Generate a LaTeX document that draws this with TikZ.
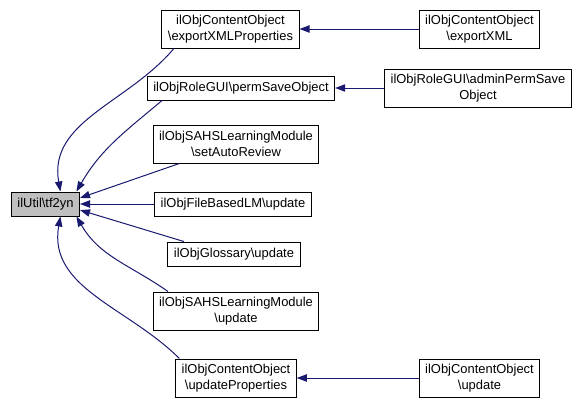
\documentclass[tikz,border=0pt]{standalone}
\usepackage{fontspec}
\setmainfont{Liberation Sans}
\usetikzlibrary{arrows.meta}
\definecolor{ee}{RGB}{25, 25, 112}
\definecolor{rr}{RGB}{191, 191, 191}

\begin{document}
\begin{tikzpicture}[x=0.75pt, y=0.75pt,
box/.style={rectangle, draw=black, line width=0.75pt, inner xsep=4.5pt, inner ysep=0pt, minimum height=18pt, align=center, font=\fontsize{9.7}{12.5}\selectfont},
tall/.style={minimum height=28.5pt},
edge/.style={line width=0.75pt, color=ee, -{Triangle[length=7.5pt, width=5.5pt]}}]
\useasboundingbox (0,0) rectangle (587,-407);
\node (1) [box, fill=rr] at (45.5,-204) {ilUtil\textbackslash tf2yn};
\node (2) [box, tall] at (230.5,-29) {ilObjContentObject\\\textbackslash exportXMLProperties};
\node (3) [box, tall] at (479.5,-29) {ilObjContentObject\\\textbackslash exportXML};
\node (4) [box] at (241,-88) {ilObjRoleGUI\textbackslash permSaveObject};
\node (5) [box, tall] at (478,-88) {ilObjRoleGUI\textbackslash adminPermSave\\Object};
\node (6) [box, tall] at (236,-144) {ilObjSAHSLearningModule\\\textbackslash setAutoReview};
\node (7) [box] at (233,-204) {ilObjFileBasedLM\textbackslash update};
\node (8) [box] at (234,-254) {ilObjGlossary\textbackslash update};
\node (9) [box, tall] at (236,-311) {ilObjSAHSLearningModule\\\textbackslash update};
\node (10) [box, tall] at (236,-378) {ilObjContentObject\\\textbackslash updateProperties};
\node (11) [box, tall] at (479.5,-378) {ilObjContentObject\\\textbackslash update};
\draw [edge] (2.199) to [out=230, in=100] (1.40);
\draw [edge] (4.189) to [out=220, in=60] (1.22);
\draw [edge] (6.199) -- (1.10);
\draw [edge] (7) -- (1);
\draw [edge] (8.166) -- (1.350);
\draw [edge] (9.164) to [out=145, in=300] (1.338);
\draw [edge] (10.161) to [out=135, in=260] (1.320);
\draw [edge] (3) -- (2);
\draw [edge] (5) -- (4);
\draw [edge] (11) -- (10);
\end{tikzpicture}
\end{document}
